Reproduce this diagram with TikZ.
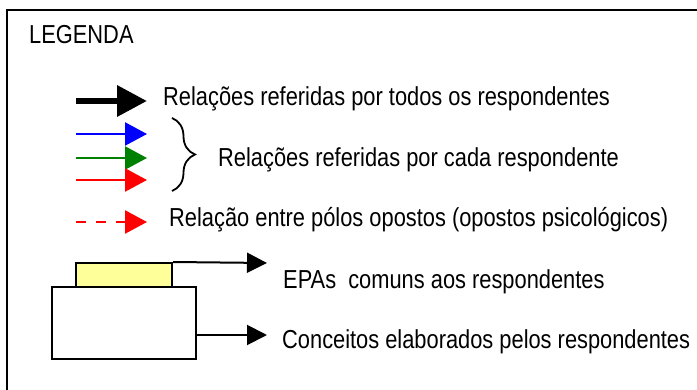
\documentclass[tikz,border=0pt]{standalone}
\usepackage{fontspec}
\setmainfont{Liberation Sans}[FakeStretch=0.84]
\usepackage{xcolor}
\usetikzlibrary{arrows.meta,decorations.pathreplacing,positioning}
\definecolor{epayellow}{RGB}{255,255,153}
\definecolor{legblue}{RGB}{0,0,255}
\definecolor{leggreen}{RGB}{0,128,0}
\definecolor{legred}{RGB}{255,0,0}
\tikzset{
  legtext/.style={anchor=base west, inner sep=0pt, font=\fontsize{26}{31}\selectfont},
  frameline/.style={line width=2pt, black},
  boldarrow/.style={line width=6.5pt, -{Triangle[length=30pt,width=30pt]}},
  colarrow/.style={line width=2.5pt, -{Triangle[length=22pt,width=23pt]}},
  thinarrow/.style={line width=2pt, -{Triangle[length=20pt,width=20pt]}},
  legbox/.style={draw, line width=2pt, inner sep=0pt},
}
\begin{document}
\begin{tikzpicture}[x=1pt,y=-1pt]
  \useasboundingbox (0,0) rectangle (697,390);
  % frame
  \draw[frameline] (7,10) rectangle (720,420);
  \node[legtext] (title) at (29,44) {LEGENDA};

  % arrow ends
  \coordinate (alls) at (76,101);
  \coordinate (alle) at (147,101);
  \coordinate (blues) at (76,134);
  \coordinate (bluee) at (147,134);
  \coordinate (greens) at (76,158);
  \coordinate (greene) at (147,158);
  \coordinate (reds) at (76,180);
  \coordinate (rede) at (147,180);
  \coordinate (opps) at (76,222);
  \coordinate (oppe) at (147,222);
  \coordinate (bracetop) at (172,118);
  \coordinate (bracebot) at (172,191);

  % relations
  \draw[boldarrow, black] (alls) -- (alle);
  \draw[colarrow, legblue] (blues) -- (bluee);
  \draw[colarrow, leggreen] (greens) -- (greene);
  \draw[colarrow, legred] (reds) -- (rede);
  \draw[colarrow, legred, dash pattern=on 10pt off 10pt] (opps) -- (oppe);
  \draw[line width=1.8pt, decorate, decoration={brace, amplitude=23pt}] (bracetop) -- (bracebot);

  % boxes
  \node[legbox, fill=epayellow, minimum width=96, minimum height=24] (epa) at (124,275) {};
  \node[legbox, fill=white, minimum width=144, minimum height=72] (conc) at (124,323) {};
  \coordinate (epae) at (267,263);
  \coordinate (conce) at (267,335);
  \draw[thinarrow] (epa.north east) -- (epae);
  \draw[thinarrow] (conc.east |- conce) -- (conce);

  % Labels
  \node[legtext] (txtall) at (163,105.5) {Relações referidas por todos os respondentes};
  \node[legtext] (txteach) at (218,166.5) {Relações referidas por cada respondente};
  \node[legtext] (txtopp) at (169,226.5) {Relação entre pólos opostos (opostos psicológicos)};
  \node[legtext] (txtepa) at (283,289) {EPAs\ \ comuns aos respondentes};
  \node[legtext] (txtconc) at (282,349) {Conceitos elaborados pelos respondentes};
\end{tikzpicture}
\end{document}
